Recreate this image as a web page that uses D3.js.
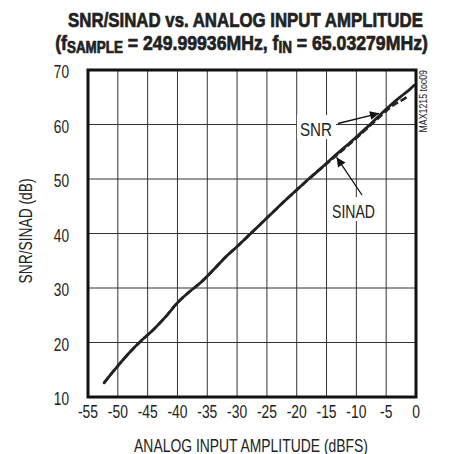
<!DOCTYPE html>
<html>
<head>
<meta charset="utf-8">
<script src="https://cdn.jsdelivr.net/npm/d3@7"></script>
<style>
  body { margin: 0; background: #fff; }
  svg { display: block; }
  text { font-family: "Liberation Sans", Arial, sans-serif; fill: #222; }
</style>
</head>
<body>
<svg id="chart" width="461" height="454"></svg>
<script>
// ---- data ----
const snrX = [-52.3, -51, -50, -48, -46, -44, -42, -40, -38, -36, -34, -32, -30, -28, -26, -24, -22, -20, -18, -16, -14, -12, -10, -8, -6, -4, -2, -1, -0.3];
const snrY = [12.6, 14.4, 15.7, 18.2, 20.4, 22.4, 24.7, 27.3, 29.3, 31.1, 33.3, 35.6, 37.6, 39.7, 41.8, 43.9, 46.0, 48.0, 50.0, 51.9, 53.9, 55.8, 57.7, 59.7, 61.8, 63.8, 65.6, 66.5, 67.2];
const sinadX = [-52.3, -51, -50, -48, -46, -44, -42, -40, -38, -36, -34, -32, -30, -28, -26, -24, -22, -20, -18, -16, -14, -12, -10, -8, -6, -4, -2, -1.3];
const sinadY = [12.6, 14.4, 15.7, 18.2, 20.4, 22.4, 24.7, 27.3, 29.3, 31.1, 33.3, 35.6, 37.6, 39.7, 41.8, 43.9, 46.0, 48.0, 50.0, 51.9, 53.7, 55.6, 57.5, 59.5, 61.5, 63.4, 64.7, 65.2];
const xTicks = [-55, -50, -45, -40, -35, -30, -25, -20, -15, -10, -5, 0];
const yTicks = [10, 20, 30, 40, 50, 60, 70];

const svg = d3.select("#chart");
const L = 88, R = 416, T = 70, B = 397;
const x = d3.scaleLinear().domain([-55, 0]).range([L, R]);
const y = d3.scaleLinear().domain([10, 70]).range([B, T]);

// condensed text helper: horizontal squeeze so the font looks narrow
function ctext(parent, str, px, py, opts) {
  const o = Object.assign({size: 16, sx: 0.84, anchor: "middle", weight: "normal", rot: 0, width: null}, opts || {});
  const g = parent.append("g").attr("transform", `translate(${px},${py}) rotate(${o.rot})`);
  const t = g.append("text").attr("text-anchor", o.anchor)
    .style("font-size", o.size + "px").style("font-weight", o.weight);
  if (typeof str === "function") str(t); else t.text(str);
  let s = o.sx;
  if (o.width) s = o.width / t.node().getBBox().width;
  t.attr("transform", `scale(${s},1)`);
  return t;
}

// title
ctext(svg, "SNR/SINAD vs. ANALOG INPUT AMPLITUDE", 245.5, 27, {size: 21, weight: "bold", width: 355})
  .attr("stroke", "#222").attr("stroke-width", 0.7);
ctext(svg, t => {
  t.append("tspan").text("(f");
  t.append("tspan").style("font-size", "16px").attr("dy", 3).text("SAMPLE");
  t.append("tspan").attr("dy", -3).text(" = 249.99936MHz, f");
  t.append("tspan").style("font-size", "16px").attr("dy", 3).text("IN");
  t.append("tspan").attr("dy", -3).text(" = 65.03279MHz)");
}, 241.5, 50, {size: 21, weight: "bold", width: 373}).attr("stroke", "#222").attr("stroke-width", 0.7);

// gridlines
const g = svg.append("g");
g.selectAll("line.vx").data(xTicks.slice(1, -1)).join("line").attr("class", "vx")
  .attr("x1", d => x(d)).attr("x2", d => x(d)).attr("y1", T).attr("y2", B)
  .attr("stroke", "#333").attr("stroke-width", 1);
g.selectAll("line.hy").data(yTicks.slice(1, -1)).join("line").attr("class", "hy")
  .attr("x1", L).attr("x2", R).attr("y1", d => y(d)).attr("y2", d => y(d))
  .attr("stroke", "#333").attr("stroke-width", 1);

// tick labels
xTicks.forEach(d => ctext(svg, String(d), x(d), 418, {size: 18, sx: 0.77}));
yTicks.forEach(d => ctext(svg, String(d), 69, y(d) + 8, {size: 18, sx: 0.76, anchor: "end"}));

// axis titles
ctext(svg, "ANALOG INPUT AMPLITUDE (dBFS)", 251, 452, {size: 17.5, width: 234});
ctext(svg, "SNR/SINAD (dB)", 32, 231, {size: 17.5, width: 105, rot: -90});

// curves
const snr = snrX.map((v, i) => [v, snrY[i]]);
const sinad = sinadX.map((v, i) => [v, sinadY[i]]);
const line = d3.line().x(d => x(d[0])).y(d => y(d[1])).curve(d3.curveMonotoneX);
svg.append("path").datum(sinad).attr("d", line).attr("fill", "none")
  .attr("stroke", "#222").attr("stroke-width", 2.6).attr("stroke-dasharray", "7,3");
svg.append("path").datum(snr).attr("d", line).attr("fill", "none")
  .attr("stroke", "#222").attr("stroke-width", 2.8).attr("stroke-linecap", "round");

// frame
svg.append("rect").attr("x", L).attr("y", T).attr("width", R - L).attr("height", B - T)
  .attr("fill", "none").attr("stroke", "#111").attr("stroke-width", 3);

// annotations
const defs = svg.append("defs");
defs.append("marker").attr("id", "arr").attr("viewBox", "0 0 10 10").attr("refX", 10).attr("refY", 5)
  .attr("markerWidth", 15).attr("markerHeight", 9).attr("markerUnits", "userSpaceOnUse").attr("orient", "auto")
  .append("path").attr("d", "M0,0 L10,5 L0,10 z").attr("fill", "#111");

svg.append("rect").attr("x", 297).attr("y", 115).attr("width", 39).attr("height", 24).attr("fill", "#fff");
ctext(svg, "SNR", 316, 136, {size: 18, width: 32});
svg.append("line").attr("x1", 338).attr("y1", 123.5).attr("x2", x(-6.2)).attr("y2", y(62.6) + 3)
  .attr("stroke", "#111").attr("stroke-width", 1.3).attr("marker-end", "url(#arr)");

svg.append("rect").attr("x", 329).attr("y", 197).attr("width", 49).attr("height", 24).attr("fill", "#fff");
ctext(svg, "SINAD", 353.5, 218, {size: 18, width: 43});
svg.append("line").attr("x1", 362).attr("y1", 195).attr("x2", x(-13.3)).attr("y2", y(54.5) + 3)
  .attr("stroke", "#111").attr("stroke-width", 1.3).attr("marker-end", "url(#arr)");

ctext(svg, "MAX1215 toc09", 427, 70, {size: 10, anchor: "end", rot: -90, width: 63});
</script>
</body>
</html>
